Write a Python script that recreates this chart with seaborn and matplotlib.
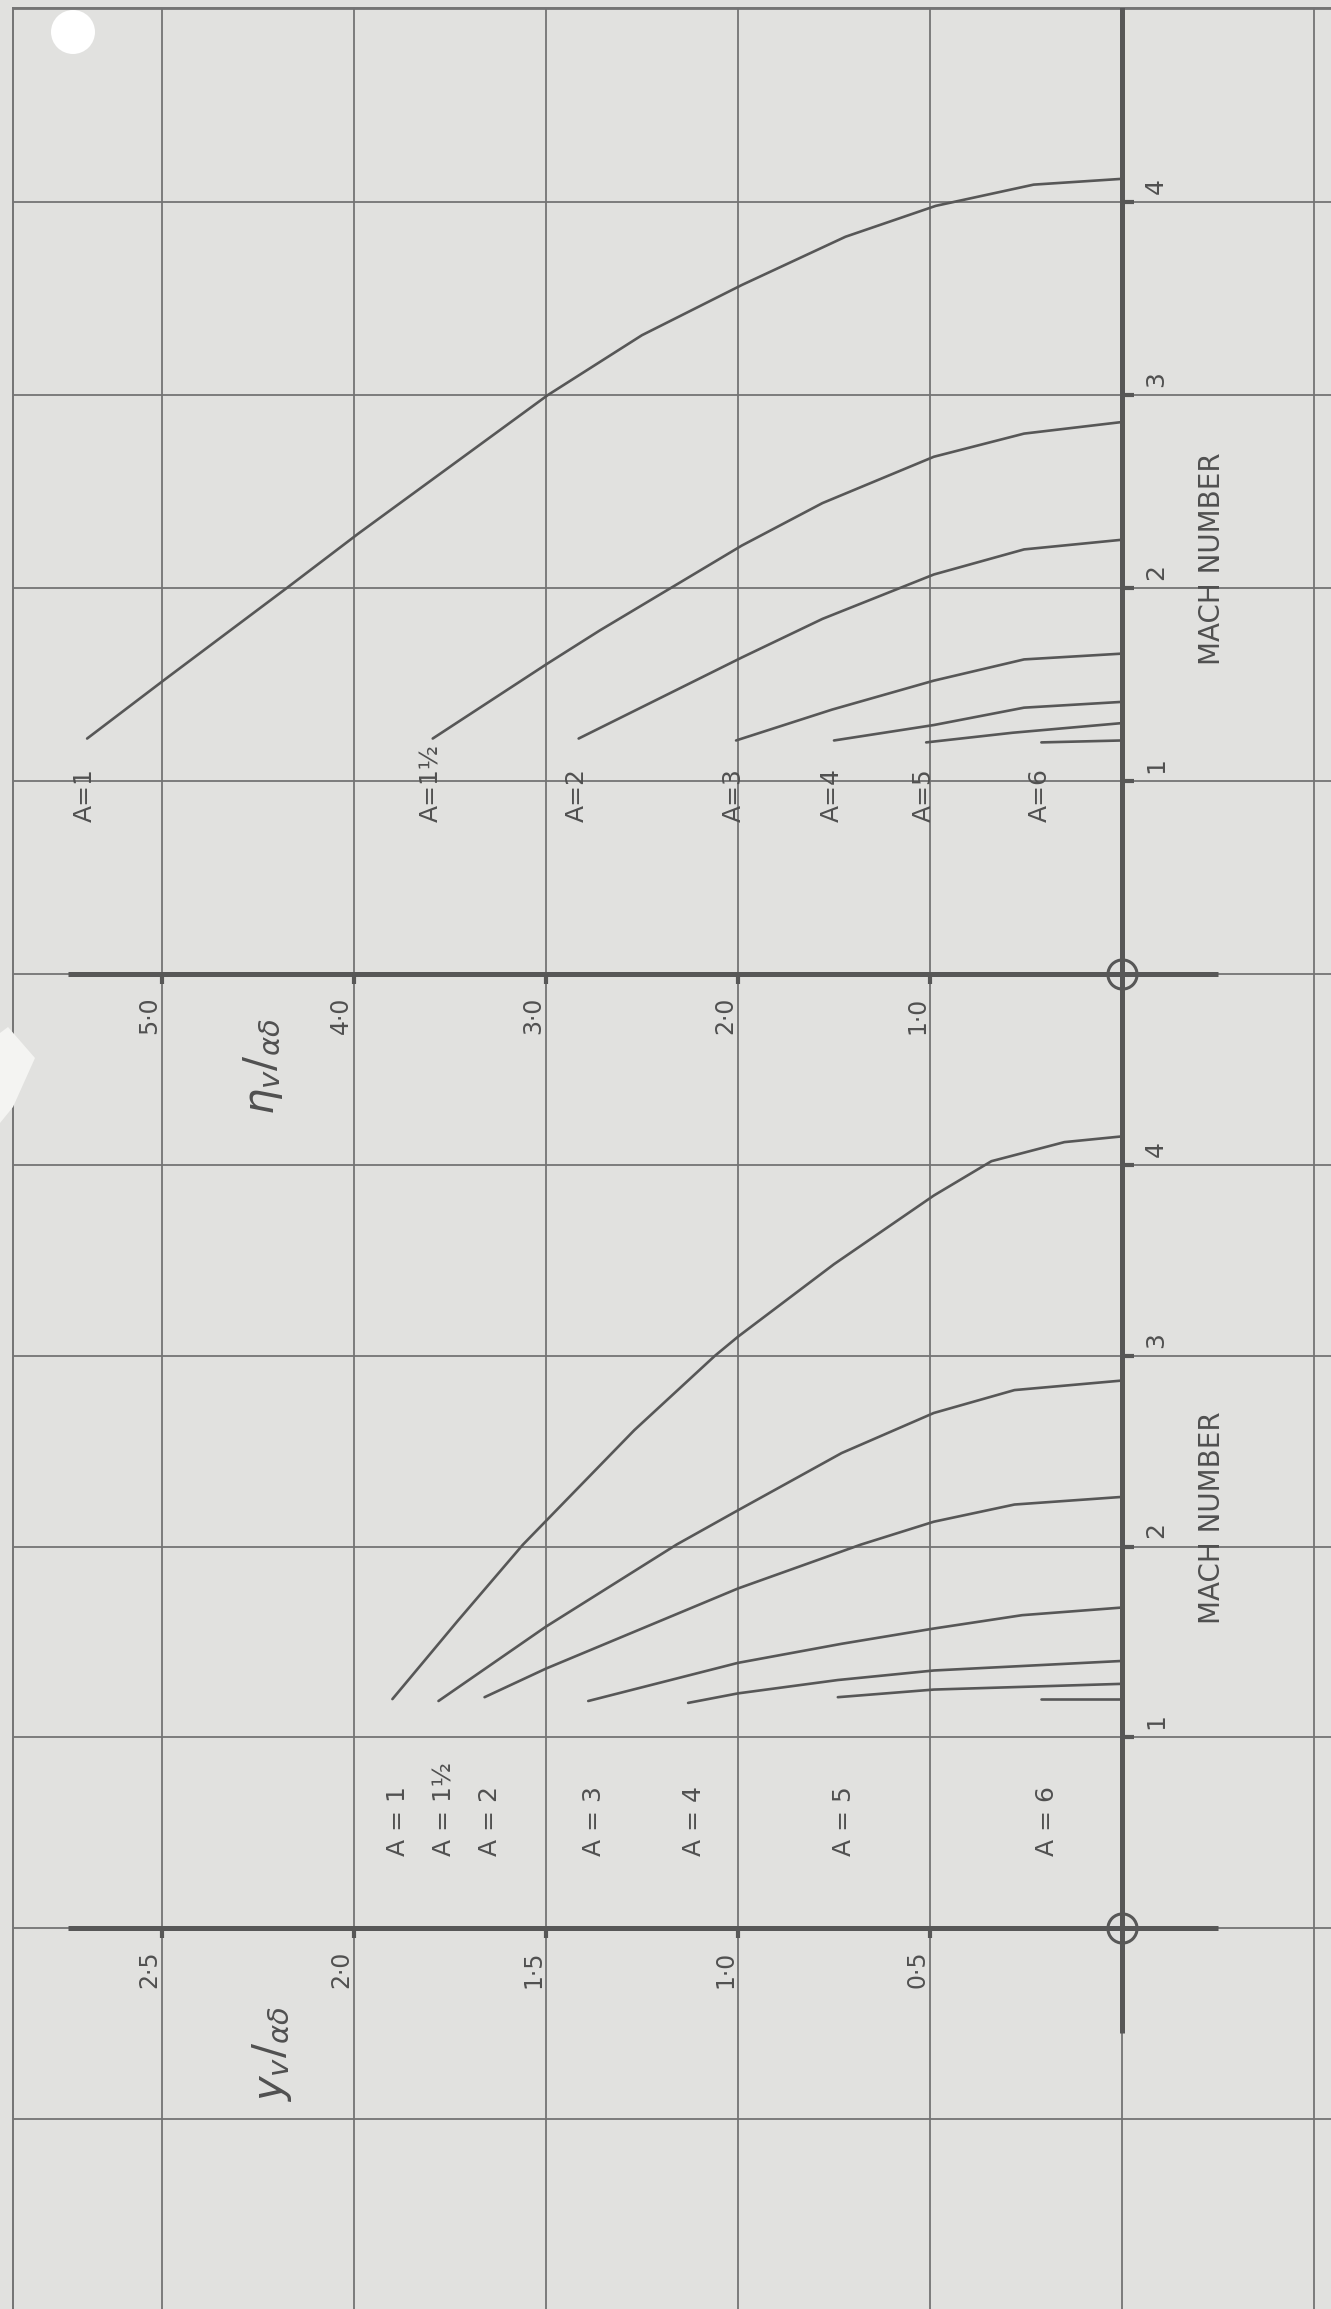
import matplotlib

matplotlib.use("Agg")
import matplotlib.pyplot as plt
import numpy as np
import pandas as pd
import seaborn as sns
from matplotlib.patches import Ellipse, Polygon

# ---- data: (value, Mach number) along each curve ----
A_NAMES = ["1", "1½", "2", "3", "4", "5", "6"]

# upper panel: eta_v / alpha delta
ETA_A1 = [(5.39, 1.22), (4.98, 1.53), (4.35, 2.00), (3.98, 2.28), (2.99, 3.00), (2.50, 3.31),
          (1.98, 3.57), (1.44, 3.82), (0.97, 3.98), (0.46, 4.09), (0.0, 4.12)]
ETA_A15 = [(3.59, 1.22), (2.99, 1.61), (2.72, 1.78), (2.35, 2.00), (1.98, 2.22), (1.56, 2.44),
           (0.98, 2.68), (0.51, 2.80), (0.0, 2.86)]
ETA_A2 = [(2.83, 1.22), (1.98, 1.64), (1.56, 1.84), (0.98, 2.07), (0.51, 2.20), (0.0, 2.25)]
ETA_A3 = [(2.01, 1.21), (1.51, 1.37), (0.98, 1.52), (0.51, 1.63), (0.0, 1.66)]
ETA_A4 = [(1.50, 1.21), (0.98, 1.29), (0.51, 1.38), (0.0, 1.41)]
ETA_A5 = [(1.02, 1.20), (0.57, 1.25), (0.0, 1.30)]
ETA_A6 = [(0.42, 1.20), (0.0, 1.21)]

# lower panel: y_v / alpha delta
Y_A1 = [(1.90, 1.20), (1.73, 1.61), (1.56, 2.01), (1.27, 2.61), (1.06, 3.00),
        (1.00, 3.10), (0.75, 3.48), (0.49, 3.84), (0.34, 4.02), (0.15, 4.12), (0.0, 4.15)]
Y_A15 = [(1.78, 1.19), (1.50, 1.58), (1.16, 2.01), (1.00, 2.19), (0.73, 2.49), (0.49, 2.70),
         (0.28, 2.82), (0.0, 2.87)]
Y_A2 = [(1.66, 1.21), (1.50, 1.36), (1.00, 1.78), (0.68, 2.01), (0.49, 2.13), (0.28, 2.22), (0.0, 2.26)]
Y_A3 = [(1.39, 1.19), (1.00, 1.39), (0.73, 1.49), (0.49, 1.57), (0.26, 1.64), (0.0, 1.68)]
Y_A4 = [(1.13, 1.18), (1.00, 1.23), (0.74, 1.30), (0.49, 1.35), (0.0, 1.40)]
Y_A5 = [(0.74, 1.21), (0.49, 1.25), (0.0, 1.28)]
Y_A6 = [(0.21, 1.20), (0.0, 1.20)]

ETA_TICKS = [1.0, 2.0, 3.0, 4.0, 5.0]
ETA_TICKLABELS = ["1·0", "2·0", "3·0", "4·0", "5·0"]
Y_TICKS = [0.5, 1.0, 1.5, 2.0, 2.5]
Y_TICKLABELS = ["0·5", "1·0", "1·5", "2·0", "2·5"]
MACH_TICKS = [1, 2, 3, 4]

PAPER = "#e1e1df"
GRID = "#747474"
INK = "#575757"
TEXT = "#505050"

W, H = 1331, 2309
SPLIT = 1070  # pixel row where the two panels meet

sns.set_style("white")
plt.rcParams["font.family"] = ["DejaVu Sans"]


def to_frame(curves):
    rows = []
    for name, pts in zip(A_NAMES, curves):
        for i, (v, m) in enumerate(pts):
            rows.append({"A": name, "value": v, "mach": m, "i": i})
    return pd.DataFrame(rows)


def setup(ax, xlim, ylim, xgrid, top_spine):
    ax.set_xlim(*xlim)
    ax.set_ylim(*ylim)
    ax.patch.set_alpha(0)
    for side, sp in ax.spines.items():
        sp.set_visible(side == "left" or (side == "top" and top_spine))
        sp.set_color(GRID)
        sp.set_linewidth(1.4)
    ax.set_xticks(xgrid)
    ax.set_yticks(np.arange(np.ceil(ylim[0]), np.floor(ylim[1]) + 1))
    ax.tick_params(length=0, labelbottom=False, labelleft=False)
    ax.grid(True, color=GRID, linewidth=1.3)


def panel(ax, curves, px_x, px_y, ticks, ticklabels, a_fmt, label_dv, label_m, ylabel, ylabel_pos):
    df = to_frame(curves)
    sns.lineplot(data=df, x="value", y="mach", units="A", estimator=None, sort=False,
                 color=INK, linewidth=1.9, legend=False, ax=ax)
    ax.set_xlabel("")
    ax.set_ylabel("")

    # heavy axes through the origin
    ax.hlines(0, (1122 - 68) / px_x, (1122 - 1218) / px_x, color=INK, linewidth=3.6, zorder=4)
    ax.vlines(0, -0.55, ax.get_ylim()[1] + 0.05, color=INK, linewidth=3.6, zorder=4)
    ax.plot([0], [0], marker="o", ms=21, mfc="none", mec=INK, mew=2.2, zorder=5)

    # small tick marks and labels on the value axis
    ax.vlines(ticks, -10 / px_y, 0, color=INK, linewidth=3.0, zorder=4)
    for v, lab in zip(ticks, ticklabels):
        ax.text(v + 1 / px_x, -41 / px_y, lab, rotation=90, ha="right", va="center",
                fontsize=17, color=TEXT)

    # Mach number ticks and labels
    ax.hlines(MACH_TICKS, -12 / px_x, 0, color=INK, linewidth=3.0, zorder=4)
    for m in MACH_TICKS:
        ax.text(-34 / px_x, m + 16 / px_y, str(m), rotation=90, ha="center", va="center",
                fontsize=18, color=TEXT)
    ax.text(-90 / px_x, 2.15, "MACH NUMBER", rotation=90, ha="center", va="center",
            fontsize=20, color=TEXT)

    # curve labels, just below the start of each curve
    for name, pts in zip(A_NAMES, curves):
        ax.text(pts[0][0] + label_dv, label_m, a_fmt.format(name), rotation=90,
                ha="center", va="bottom", fontsize=18, color=TEXT)

    ax.text(ylabel_pos[0], ylabel_pos[1], ylabel, rotation=90, ha="center", va="center",
            fontsize=30, color=TEXT)


fig = plt.figure(figsize=(W / 100, H / 100), dpi=100, facecolor=PAPER)

# upper panel: 192 px per unit of eta, 193 px per Mach; origin at pixel (1122, 974)
ax_top = fig.add_axes([13 / W, 1 - SPLIT / H, 1 - 13 / W, (SPLIT - 8) / H])
setup(ax_top, ((1122 - 13) / 192, (1122 - W) / 192), ((974 - SPLIT) / 193, (974 - 8) / 193),
      np.arange(-1, 6), top_spine=True)
panel(ax_top, [ETA_A1, ETA_A15, ETA_A2, ETA_A3, ETA_A4, ETA_A5, ETA_A6], 192, 193,
      ETA_TICKS, ETA_TICKLABELS, "A={}", 0.01, 0.79,
      r"$\eta_v/_{\alpha\delta}$", ((1122 - 263) / 192, (974 - 1067) / 193))

# lower panel: 384 px per unit of y, 190.75 px per Mach; origin at pixel (1122, 1928)
ax_bot = fig.add_axes([13 / W, 0, 1 - 13 / W, 1 - SPLIT / H])
setup(ax_bot, ((1122 - 13) / 384, (1122 - W) / 384), ((1928 - H) / 190.75, (1928 - SPLIT) / 190.75),
      np.arange(-0.5, 3.0, 0.5), top_spine=False)
panel(ax_bot, [Y_A1, Y_A15, Y_A2, Y_A3, Y_A4, Y_A5, Y_A6], 384, 190.75,
      Y_TICKS, Y_TICKLABELS, "A = {}", -0.015, 0.38,
      r"$y_v/_{\alpha\delta}$", ((1122 - 272) / 384, (1928 - 2054) / 190.75))

# scan blemishes: punched hole and torn corner
fig.patches.append(Ellipse((73 / W, 1 - 32 / H), 44 / W, 44 / H, transform=fig.transFigure,
                           facecolor="white", edgecolor="none", zorder=10))
shard = [(0, 1033), (8, 1027), (35, 1058), (13, 1107), (0, 1123)]
fig.patches.append(Polygon([(x / W, 1 - y / H) for x, y in shard], closed=True,
                           transform=fig.transFigure, facecolor="#f4f4f2", edgecolor="none", zorder=10))

fig.savefig("out.png", dpi=100, facecolor=fig.get_facecolor())
